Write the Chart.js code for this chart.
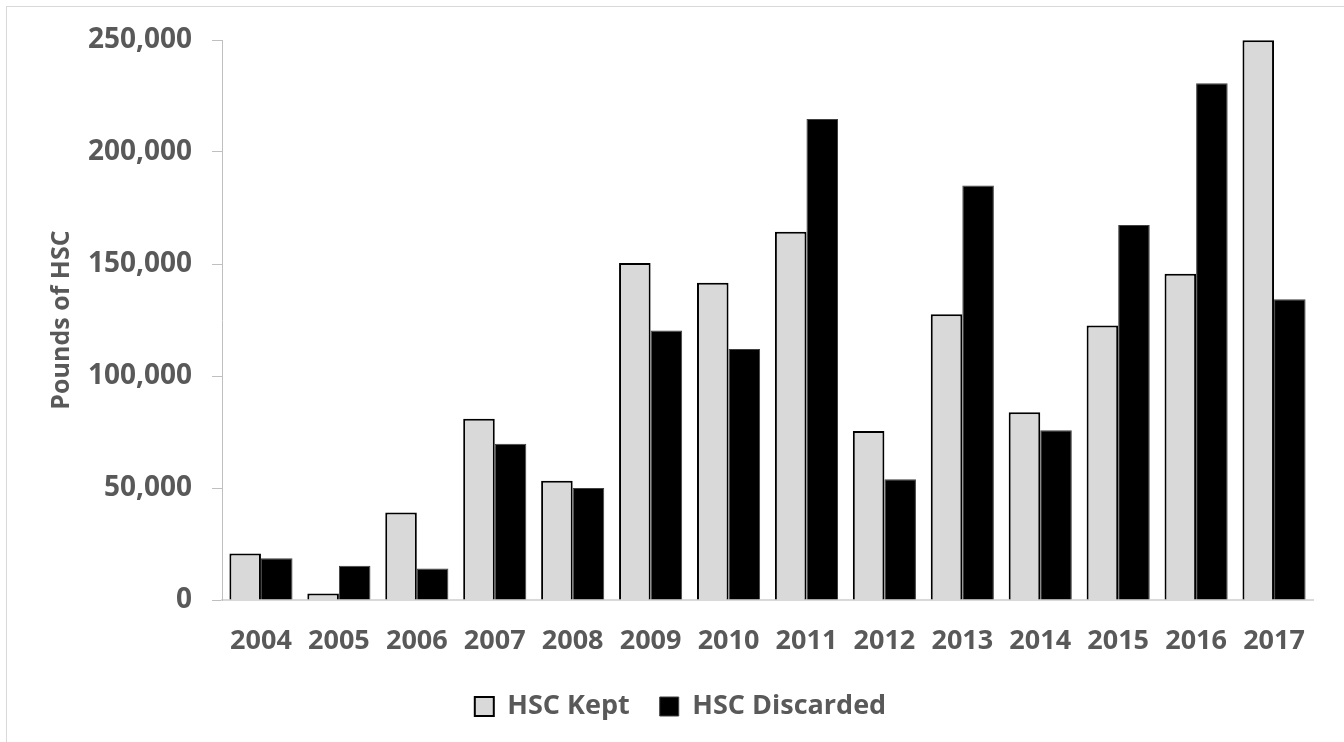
<!DOCTYPE html>
<html>
<head>
<meta charset="utf-8">
<script src="https://cdn.jsdelivr.net/npm/chart.js@4.4.1/dist/chart.umd.min.js"></script>
<style>
  html, body { margin: 0; padding: 0; background: #ffffff; }
  #wrap { position: relative; width: 1344px; height: 742px; overflow: hidden; }
  #frame { position: absolute; left: 6px; top: 6px; width: 1340px; height: 760px; border: 1px solid #d9d9d9; box-sizing: border-box; }
  canvas { position: absolute; left: 0; top: 0; }
</style>
</head>
<body>
<div id="wrap">
  <div id="frame"></div>
  <canvas id="c" width="1344" height="742"></canvas>
</div>
<script>
const categories = ['2004','2005','2006','2007','2008','2009','2010','2011','2012','2013','2014','2015','2016','2017'];
const keptValues = [20800, 2900, 39100, 80900, 53200, 150400, 141600, 164400, 75400, 127600, 83800, 122500, 145700, 249900];
const discardedValues = [18600, 15300, 14100, 69700, 50000, 120300, 112100, 214700, 53900, 185100, 75800, 167400, 230700, 134300];
const yTicks = [0, 50000, 100000, 150000, 200000, 250000];

const FONT = '"Open Sans", Lato, "DejaVu Sans", sans-serif';
const TEXT = '#595959';

new Chart(document.getElementById('c'), {
  type: 'bar',
  data: {
    labels: categories,
    datasets: [
      { label: 'HSC Kept', data: keptValues, backgroundColor: '#d9d9d9', borderColor: '#000000', borderWidth: 2 },
      { label: 'HSC Discarded', data: discardedValues, backgroundColor: '#000000', borderColor: '#404040', borderWidth: 1 }
    ]
  },
  options: {
    responsive: false,
    animation: false,
    devicePixelRatio: 1,
    layout: { padding: { left: 48, right: 31, top: 40, bottom: 12 } },
    datasets: { bar: { categoryPercentage: 0.81, barPercentage: 1.0 } },
    plugins: {
      legend: {
        position: 'bottom',
        labels: {
          color: TEXT,
          font: { family: FONT, size: 27, weight: 'bold' },
          boxWidth: 19, boxHeight: 19, padding: 30
        }
      },
      tooltip: { enabled: false }
    },
    scales: {
      x: {
        grid: { display: false, drawTicks: false },
        border: { display: true, color: '#d9d9d9', width: 2 },
        ticks: { color: TEXT, font: { family: FONT, size: 27, weight: 'bold' }, padding: 25, maxRotation: 0, autoSkip: false },
        afterFit: (s) => { s.height = 63; }
      },
      y: {
        min: 0, max: 250000,
        afterBuildTicks: (s) => { s.ticks = yTicks.map(v => ({ value: v })); },
        grid: { display: true, drawOnChartArea: false, drawTicks: true, tickLength: 10, color: '#bfbfbf' },
        border: { display: true, color: '#bfbfbf', width: 1 },
        ticks: {
          color: TEXT, font: { family: FONT, size: 28, weight: 'bold' }, padding: 20,
          callback: (v) => v.toLocaleString('en-US')
        },
        title: { display: true, text: 'Pounds of HSC', color: TEXT, font: { family: FONT, size: 25, weight: 'bold', lineHeight: 1.1 }, padding: { top: 0, bottom: 0 } },
        afterFit: (s) => { s.width = 174; }
      }
    }
  }
});
</script>
</body>
</html>
